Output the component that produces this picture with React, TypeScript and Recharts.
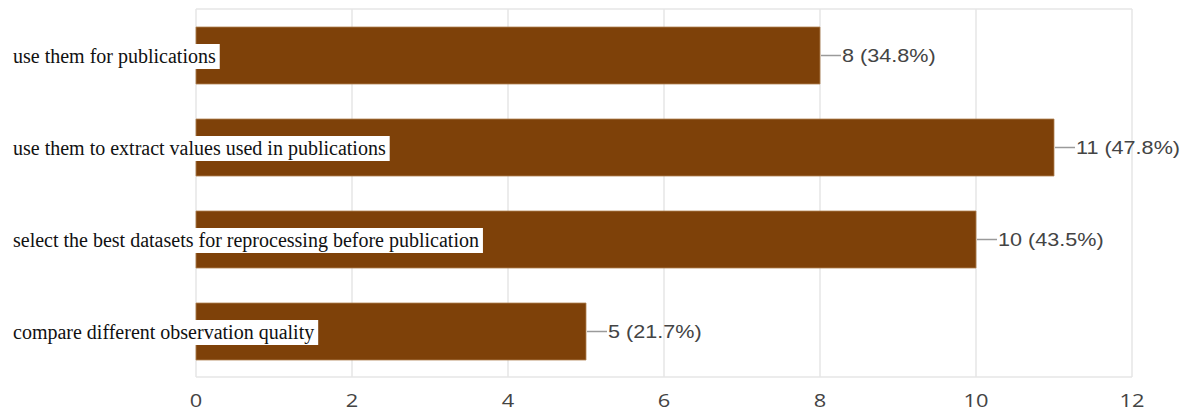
import React from 'react';
import { BarChart, Bar, XAxis, YAxis, CartesianGrid, LabelList } from 'recharts';

const categories = [
  'use them for publications',
  'use them to extract values used in publications',
  'select the best datasets for reprocessing before publication',
  'compare different observation quality',
];
const counts = [8, 11, 10, 5];
const percents = ['34.8%', '47.8%', '43.5%', '21.7%'];
const xTicks = [0, 2, 4, 6, 8, 10, 12];

const data = categories.map((name, i) => ({ name, value: counts[i], pct: percents[i] }));

const SERIF = '"Liberation Serif", "Times New Roman", serif';
const SANS = '"Liberation Sans", Arial, sans-serif';
const LABEL_SIZE = 20;

let ctx: CanvasRenderingContext2D | null = null;
function measure(text: string, font: string): number {
  if (!ctx) {
    const c = document.createElement('canvas');
    ctx = c.getContext('2d');
  }
  if (!ctx) return text.length * 9;
  ctx.font = font;
  return ctx.measureText(text).width;
}

const CategoryLabel = (props: any) => {
  const { y, height, index } = props;
  const text = categories[index];
  const cy = y + height / 2;
  const w = measure(text, `${LABEL_SIZE}px ${SERIF}`);
  return (
    <g>
      <rect x={12} y={cy - 11.5} width={w + 5} height={25} fill="#ffffff" />
      <text x={13} y={cy + 7} fontFamily={SERIF} fontSize={LABEL_SIZE} fill="#111">
        {text}
      </text>
    </g>
  );
};

const ValueLabel = (props: any) => {
  const { x, y, width, height, index } = props;
  const end = x + width;
  const cy = y + height / 2;
  return (
    <g>
      <line x1={end + 1} x2={end + 21} y1={cy} y2={cy} stroke="#9a9a9a" strokeWidth={1.5} />
      <text
        transform={`translate(${end + 22},${cy + 6.5}) scale(1.2,1)`}
        fontFamily={SANS}
        fontSize={18}
        fill="#444"
      >
        {`${counts[index]} (${percents[index]})`}
      </text>
    </g>
  );
};

const XTick = (props: any) => {
  const { x, y, payload } = props;
  return (
    <text
      transform={`translate(${x},${y + 22}) scale(1.15,1)`}
      textAnchor="middle"
      fontFamily='"Open Sans", sans-serif'
      fontSize={19}
      fill="#444"
    >
      {payload.value}
    </text>
  );
};

export default function App() {
  return (
    <div style={{ position: 'absolute', left: 0, top: 0, width: 1185, height: 412, background: '#fff' }}>
      <BarChart
        width={1185}
        height={412}
        data={data}
        layout="vertical"
        margin={{ top: 9, right: 53, bottom: 0, left: 196 }}
        barSize={57}
      >
        <CartesianGrid
          stroke="#e6e6e6"
          strokeWidth={1.5}
          horizontalCoordinatesGenerator={({ offset }: any) => [offset.top, offset.top + offset.height]}
        />
        <XAxis
          type="number"
          domain={[0, 12]}
          ticks={xTicks}
          axisLine={false}
          tickLine={false}
          height={35}
          tick={<XTick />}
          interval={0}
        />
        <YAxis
          type="category"
          dataKey="name"
          width={0}
          tick={false}
          tickLine={false}
          axisLine={{ stroke: '#4a4a4a', strokeWidth: 2 }}
        />
        <Bar dataKey="value" fill="#7e4109" stroke="#b08050" strokeWidth={0.8} isAnimationActive={false}>
          <LabelList dataKey="value" content={<CategoryLabel />} />
          <LabelList dataKey="value" content={<ValueLabel />} />
        </Bar>
      </BarChart>
    </div>
  );
}
